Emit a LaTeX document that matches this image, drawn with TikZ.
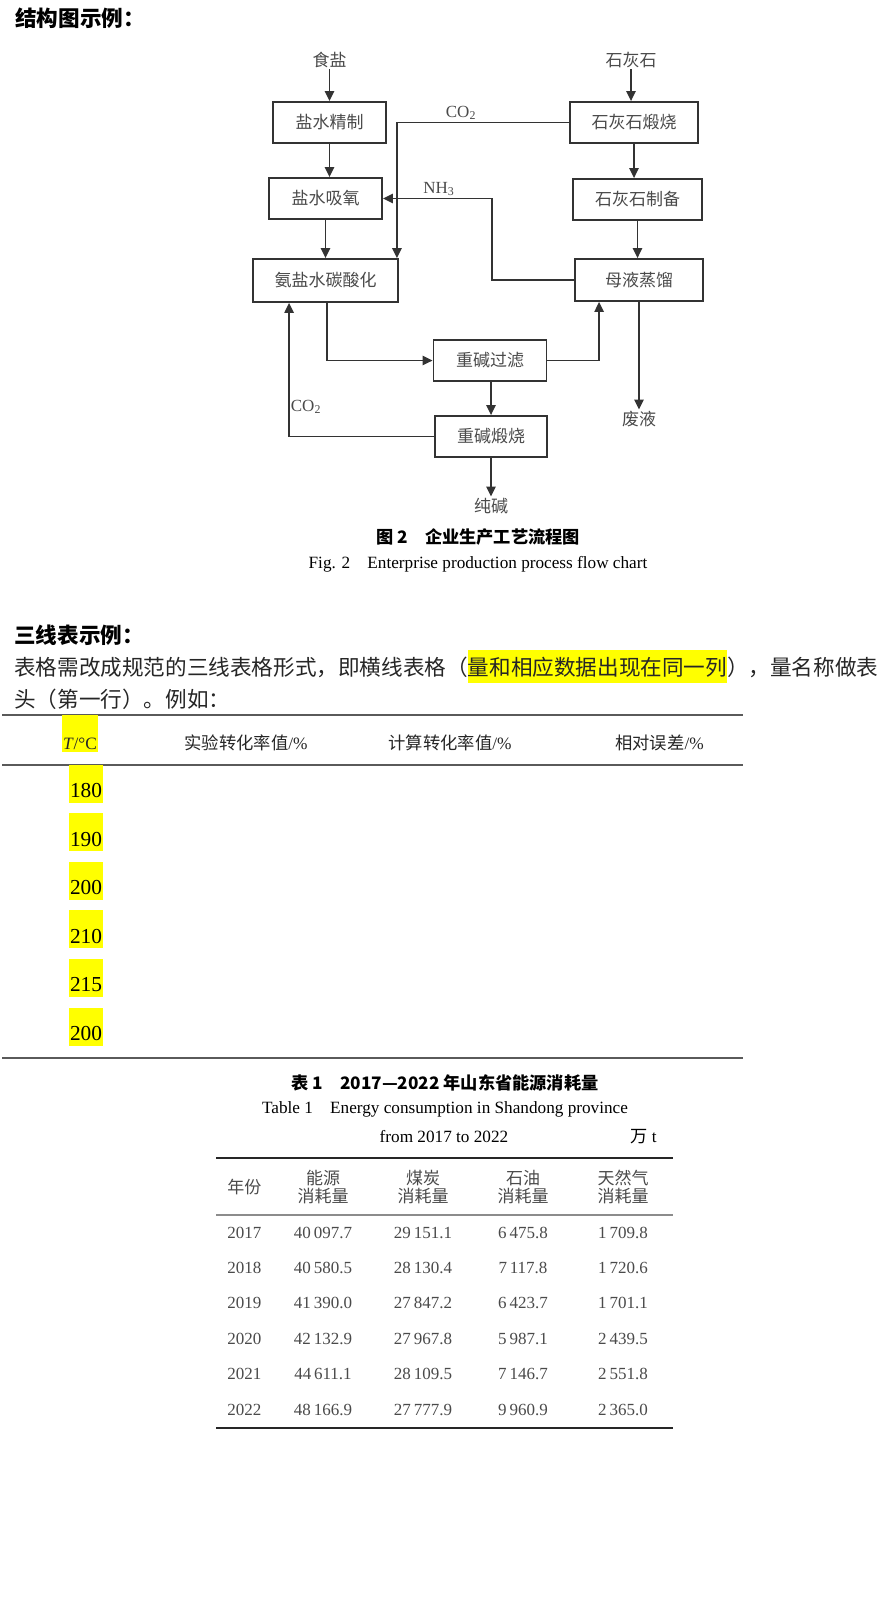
\documentclass[tikz,border=0pt]{standalone}
\usepackage{fontspec}
\setmainfont{Liberation Serif}
\newfontfamily\cjk{Noto Sans CJK SC}
\usetikzlibrary{arrows.meta,positioning,calc}
\definecolor{linegray}{HTML}{333333}
\definecolor{textgray}{HTML}{4A4A4A}
\definecolor{rulegray}{HTML}{5A5A5A}
\definecolor{hlyellow}{HTML}{FFFF00}
\newcommand\fsz[1]{\fontsize{#1pt}{#1pt}\selectfont}
\newcommand\hlmark[1]{{\setlength{\fboxsep}{0pt}\colorbox{hlyellow}{\rule[-0.36em]{0pt}{1.5em}#1}}}
\begin{document}
\begin{tikzpicture}[x=0.75pt,y=-0.75pt,
  box/.style={draw=linegray,line width=1.35pt,fill=white,inner sep=0pt,minimum height=30.75pt,text=textgray,font=\cjk\fsz{12.75}},
  lbl/.style={inner sep=1pt,text=textgray,font=\cjk\fsz{12.75}},
  chem/.style={inner sep=0pt,text=textgray,font=\fsz{12.75}},
  flow/.style={draw=linegray,line width=1.35pt,-{Triangle[length=7.5pt,width=7pt]}},
  hdg/.style={anchor=base west,inner sep=0pt,font=\cjk\bfseries\fsz{16.2}},
  body/.style={anchor=base west,inner sep=0pt,text=black!85,font=\cjk\fsz{16.2}},
  rule3/.style={draw=rulegray,line width=1.5pt},
  thead/.style={anchor=base,inner sep=0pt,text=black!85,font=\fsz{13}},
  hlnum/.style={anchor=base,fill=hlyellow,inner xsep=1pt,inner ysep=0pt,text height=24.75pt,text depth=3.75pt,font=\fsz{16}},
  figcap/.style={inner sep=0pt,font=\cjk\bfseries\fsz{12.9}},
  figcapen/.style={inner sep=0pt,font=\fsz{12.9}},
  colhead/.style={inner sep=0pt,align=center,text=textgray,font=\cjk\fontsize{12.75pt}{13.5pt}\selectfont},
  cell/.style={anchor=base,inner sep=0pt,text=textgray,font=\fsz{12.75}},
  toprule/.style={draw=black!85,line width=2.2pt},
  midrule/.style={draw=black!45,line width=1.1pt}]
\useasboundingbox (0,0) rectangle (882,1600);
\fill[white] (0,0) rectangle (882,1600);

% flow chart
\node[hdg] (h1) at (15,26) {结构图示例：};
\node[lbl] (sy) at (329.5,60) {食盐};
\node[lbl] (hs) at (631,60) {石灰石};
\node[box,minimum width=84.75pt] (jy) at (329.5,122.5) {盐水精制};
\node[box,minimum width=84.75pt] (xy) at (325.5,198.5) {盐水吸氧};
\node[box,minimum width=108.75pt,minimum height=32.25pt] (th) at (325.5,280.5) {氨盐水碳酸化};
\node[box,minimum width=96pt] (ds) at (634,122.5) {石灰石煅烧};
\node[box,minimum width=96.75pt] (zb) at (637.5,199.5) {石灰石制备};
\node[box,minimum width=96pt,minimum height=31.5pt] (zl) at (639,280) {母液蒸馏};
\node[box,minimum width=84.75pt] (gl) at (490,360.5) {重碱过滤};
\node[box,minimum width=84pt] (dc) at (491,436.5) {重碱煅烧};
\node[lbl] (fy) at (639,419) {废液};
\node[lbl] (cj) at (491,506) {纯碱};
\node[chem] (co2a) at (461,113) {CO\textsubscript{2}};
\node[chem] (nh3) at (439,189) {NH\textsubscript{3}};
\node[chem] (co2b) at (306,407) {CO\textsubscript{2}};

\draw[flow] (sy.south) -- (sy.south |- jy.north);
\draw[flow] (jy.south) -- (jy.south |- xy.north);
\draw[flow] (xy.south) -- (xy.south |- th.north);
\draw[flow] (hs.south) -- (hs.south |- ds.north);
\draw[flow] (ds.south) -- (ds.south |- zb.north);
\draw[flow] (zb.south) -- (zb.south |- zl.north);
\draw[flow] (ds.west) -| ($(th.north east)+(-2,0)$);
\draw[flow] (zl.west) -- ++(-82,0) |- (xy.east);
\draw[flow] ($(th.south west)+(75,0)$) |- (gl.west);
\draw[flow] (gl.east) -| ($(zl.south west)+(25,0)$);
\draw[flow] (zl.south) -- (fy.north);
\draw[flow] (dc.north |- gl.south) -- (dc.north);
\draw[flow] (dc.south) -- (cj.north);
\draw[flow] (dc.west) -| ($(th.south west)+(37,0)$);

\node[figcap] (cap2) at (478,537) {图 2　企业生产工艺流程图};
\node[figcapen] (cap2en) at (478,564) {Fig. 2\quad Enterprise production process flow chart};

% three-line table
\node[hdg] (h2) at (14,643) {三线表示例：};
\node[body] (p1) at (14,675) {表格需改成规范的三线表格形式，即横线表格（\hlmark{量和相应数据出现在同一列}），量名称做表};
\node[body] (p2) at (14,707) {头（第一行）。例如：};
\draw[rule3] (2,715) -- (743,715);
\draw[rule3] (2,765) -- (743,765);
\draw[rule3] (2,1058) -- (743,1058);
\node[thead,fill=hlyellow,inner xsep=0.5pt,text height=25.5pt,text depth=2.25pt] (tc) at (80,749) {\textit{T}/°C};
\node[thead] (sy1) at (246,749) {{\cjk 实验转化率值}/\%};
\node[thead] (js1) at (450,749) {{\cjk 计算转化率值}/\%};
\node[thead] (wc1) at (659.5,749) {{\cjk 相对误差}/\%};
\node[hlnum] (t1) at (86,797.5) {180};
\node[hlnum] (t2) at (86,846.1) {190};
\node[hlnum] (t3) at (86,894.7) {200};
\node[hlnum] (t4) at (86,943.3) {210};
\node[hlnum] (t5) at (86,991.9) {215};
\node[hlnum] (t6) at (86,1040.5) {200};

% table 1
\node[figcap] (cap1) at (445,1083) {表 1　2017—2022 年山东省能源消耗量};
\node[figcapen] (cap1en) at (445,1109) {Table 1\quad Energy consumption in Shandong province};
\node[figcapen] (cap1en2) at (444,1137) {from 2017 to 2022};
\node[figcapen] (unit) at (643.5,1137) {{\cjk 万} t};
\draw[toprule] (216,1158) -- (673,1158);
\draw[midrule] (216,1215) -- (673,1215);
\draw[toprule] (216,1428) -- (673,1428);
\node[colhead,anchor=west] (hy) at (227,1187) {年份};
\node[colhead] (he) at (323,1187) {能源\\消耗量};
\node[colhead] (hc) at (423,1187) {煤炭\\消耗量};
\node[colhead] (ho) at (523,1187) {石油\\消耗量};
\node[colhead] (hg) at (623,1187) {天然气\\消耗量};

\node[cell,anchor=base west] (y17) at (227,1238) {2017};
\node[cell] (e17) at (323,1238) {40\,097.7};
\node[cell] (c17) at (423,1238) {29\,151.1};
\node[cell] (o17) at (523,1238) {6\,475.8};
\node[cell] (g17) at (623,1238) {1\,709.8};

\node[cell,anchor=base west] (y18) at (227,1273.4) {2018};
\node[cell] (e18) at (323,1273.4) {40\,580.5};
\node[cell] (c18) at (423,1273.4) {28\,130.4};
\node[cell] (o18) at (523,1273.4) {7\,117.8};
\node[cell] (g18) at (623,1273.4) {1\,720.6};

\node[cell,anchor=base west] (y19) at (227,1308.8) {2019};
\node[cell] (e19) at (323,1308.8) {41\,390.0};
\node[cell] (c19) at (423,1308.8) {27\,847.2};
\node[cell] (o19) at (523,1308.8) {6\,423.7};
\node[cell] (g19) at (623,1308.8) {1\,701.1};

\node[cell,anchor=base west] (y20) at (227,1344.2) {2020};
\node[cell] (e20) at (323,1344.2) {42\,132.9};
\node[cell] (c20) at (423,1344.2) {27\,967.8};
\node[cell] (o20) at (523,1344.2) {5\,987.1};
\node[cell] (g20) at (623,1344.2) {2\,439.5};

\node[cell,anchor=base west] (y21) at (227,1379.6) {2021};
\node[cell] (e21) at (323,1379.6) {44\,611.1};
\node[cell] (c21) at (423,1379.6) {28\,109.5};
\node[cell] (o21) at (523,1379.6) {7\,146.7};
\node[cell] (g21) at (623,1379.6) {2\,551.8};

\node[cell,anchor=base west] (y22) at (227,1415) {2022};
\node[cell] (e22) at (323,1415) {48\,166.9};
\node[cell] (c22) at (423,1415) {27\,777.9};
\node[cell] (o22) at (523,1415) {9\,960.9};
\node[cell] (g22) at (623,1415) {2\,365.0};
\end{tikzpicture}
\end{document}
